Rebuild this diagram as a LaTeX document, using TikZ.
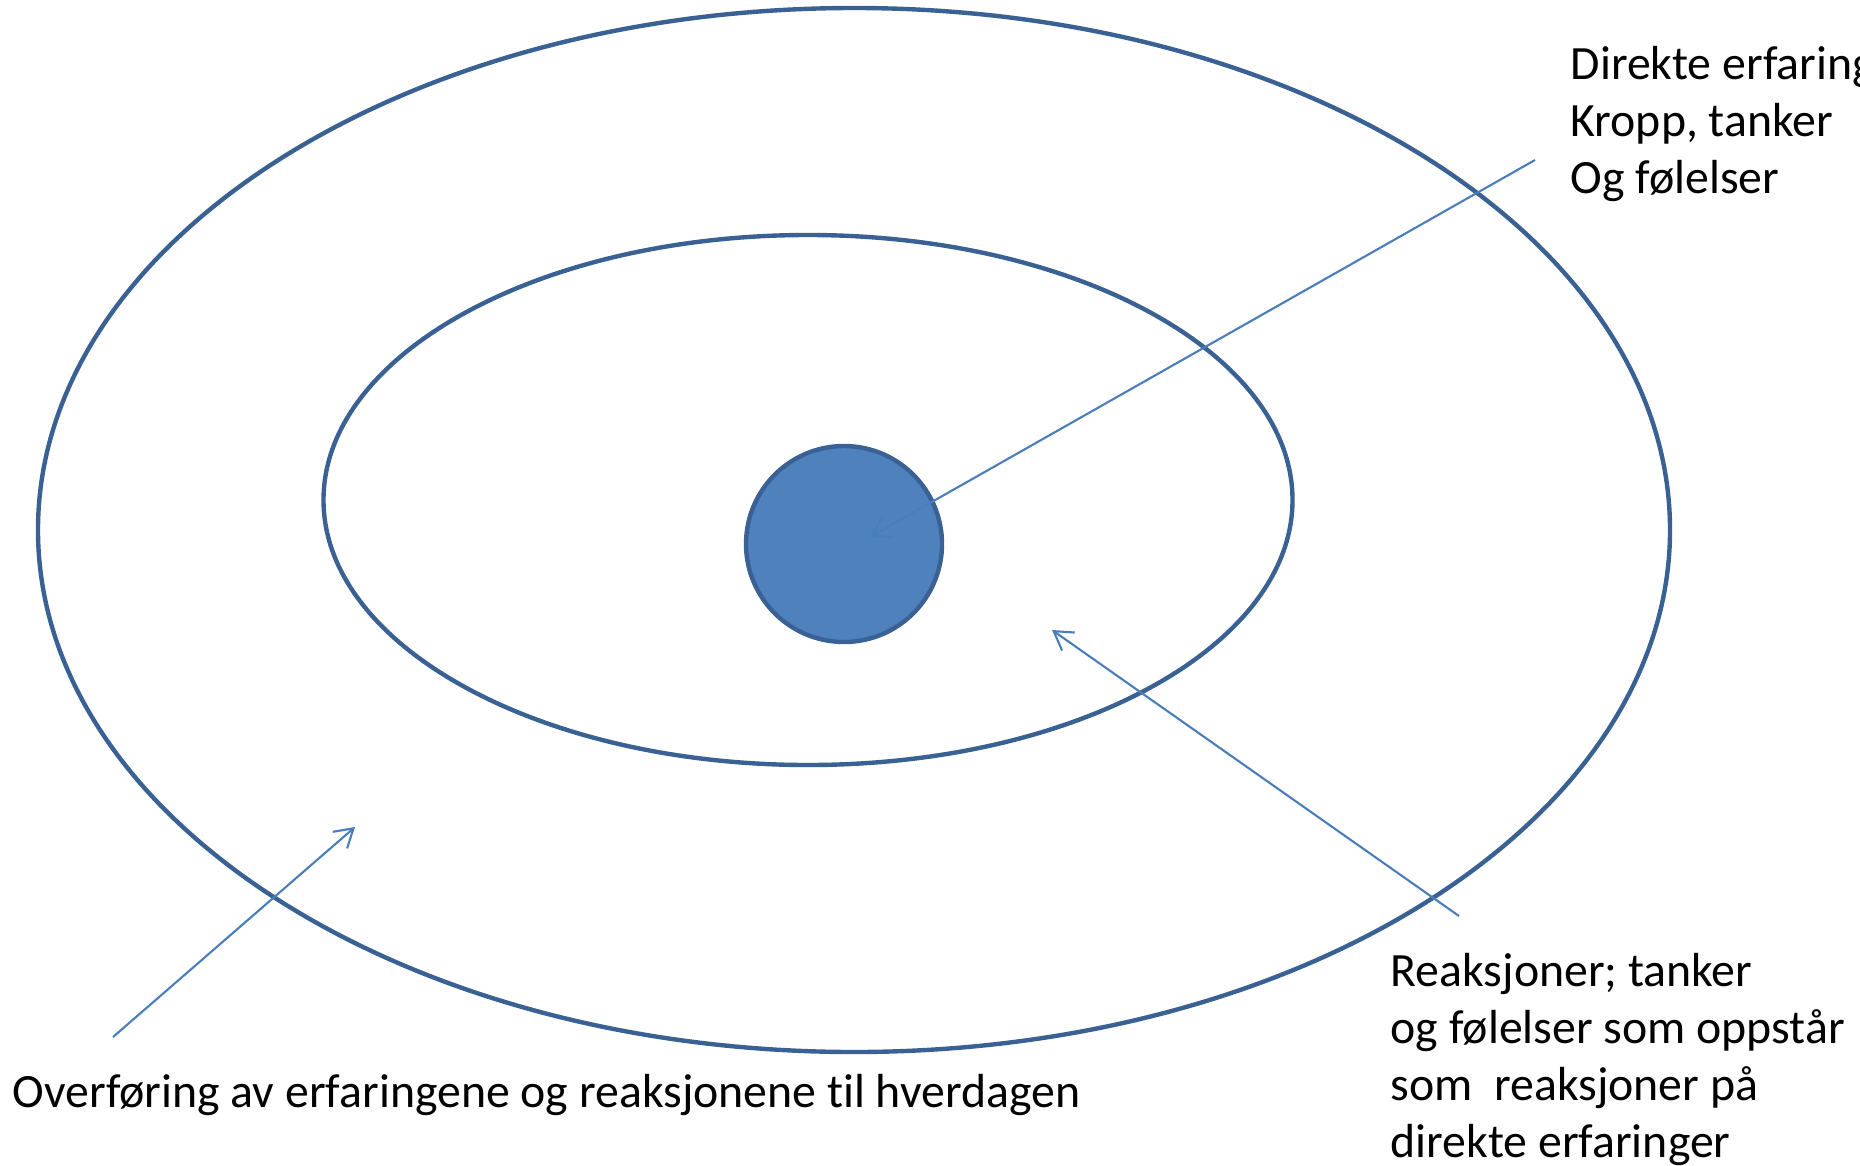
\documentclass[tikz,border=0pt]{standalone}
\usepackage{fontspec}
\setmainfont{Carlito}[Ligatures=NoCommon]
\usetikzlibrary{arrows.meta}
\definecolor{ringblue}{HTML}{3A6194}
\definecolor{kjerneblue}{HTML}{4F81BD}
\definecolor{pilblue}{HTML}{4A7EBB}

\begin{document}
\begin{tikzpicture}[
        >={Straight Barb[length=1.8mm, width=2.2mm]},
        ring/.style={draw=ringblue, line width=1.25pt},
        pointer/.style={->, draw=pilblue, line width=0.6pt},
        tekst/.style={anchor=base west, inner sep=0pt, align=left,
            font=\fontsize{13.6pt}{16.2pt}\selectfont}
    ]

\useasboundingbox (0,0) rectangle (18.6,11.65);

% Ytre og indre ring
        \draw[ring] (8.54,6.35) ellipse [x radius=8.16, y radius=5.22];
        \draw[ring] (8.08,6.65) ellipse [x radius=4.845, y radius=2.65];

% Kjernen
        \draw[ring, fill=kjerneblue] (8.44,6.21) circle (0.98);

% Tekster (base = siste linje)
        \node[tekst] (direkte) at (15.70,9.72) {Direkte erfaring\\Kropp, tanker\\Og følelser};
        \node[tekst] (reaksjon) at (13.90,0.08) {Reaksjoner; tanker\\og følelser som oppstår\\som\ \ reaksjoner på\\direkte erfaringer};
        \node[tekst] (overforing) at (0.12,0.58) {Overføring av erfaringene og reaksjonene til hverdagen};

% Endepunkter for pilene
        \coordinate (p1start) at (15.35,10.05);
        \coordinate (p1slutt) at (8.70,6.28);
        \coordinate (p2start) at (14.59,2.49);
        \coordinate (p2slutt) at (10.52,5.35);
        \coordinate (p3start) at (1.13,1.28);
        \coordinate (p3slutt) at (3.55,3.38);

% Piler
        \draw[pointer] (p1start) -- (p1slutt);
        \draw[pointer] (p2start) -- (p2slutt);
        \draw[pointer] (p3start) -- (p3slutt);
    \end{tikzpicture}
\end{document}
